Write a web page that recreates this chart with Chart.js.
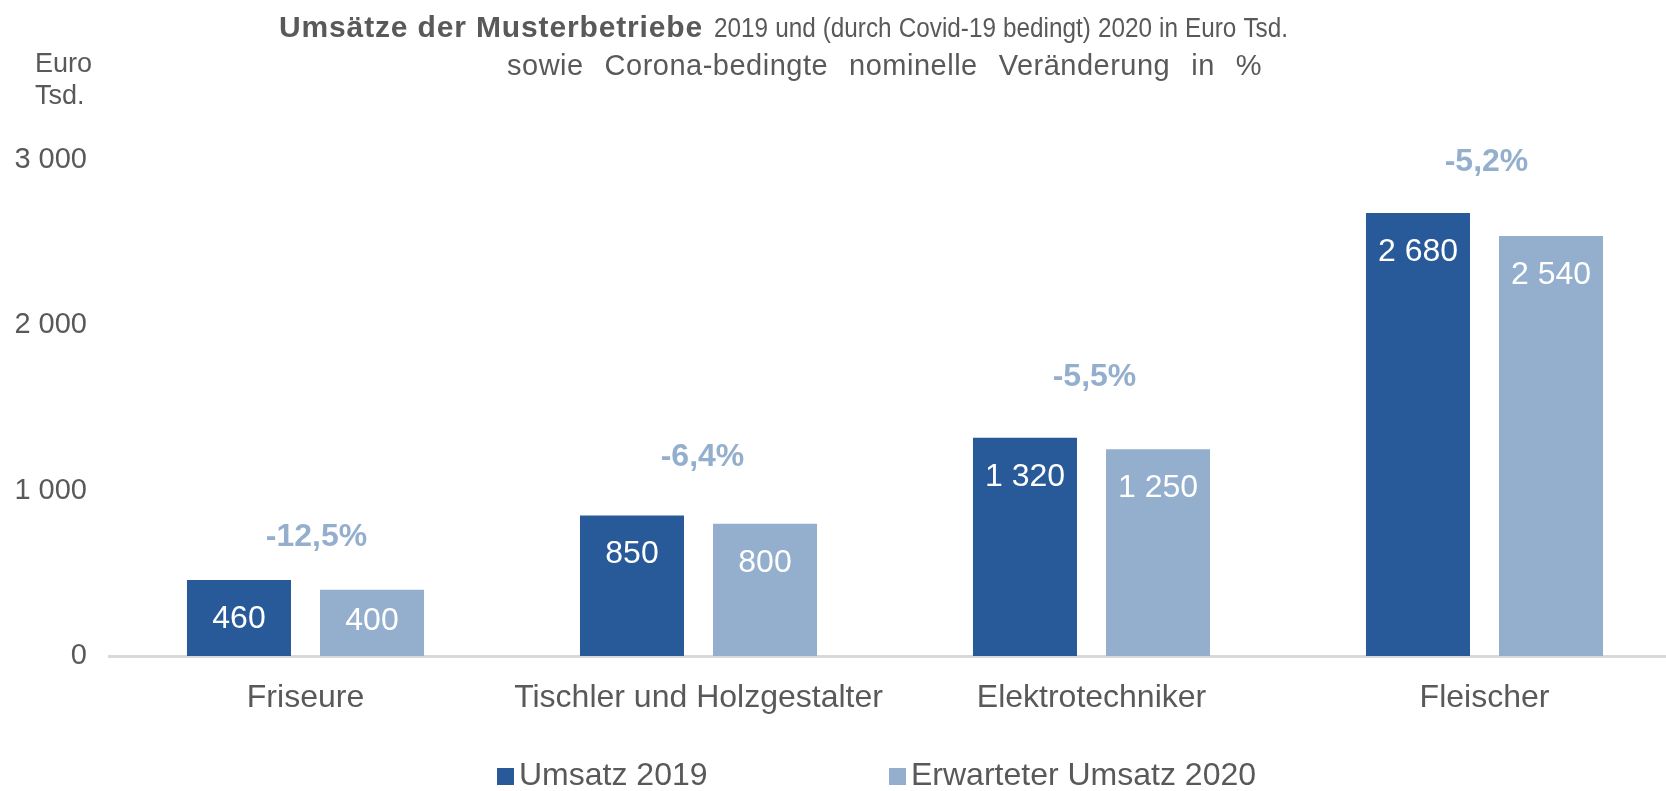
<!DOCTYPE html>
<html><head><meta charset="utf-8">
<script src="https://cdn.jsdelivr.net/npm/chart.js@4/dist/chart.umd.min.js"></script>
<style>html,body{margin:0;padding:0;overflow:hidden;background:#fff}#wrap{width:1681px;height:791px;position:relative}</style>
</head><body><div id="wrap"><canvas id="c"></canvas></div>
<script>
const categories = ['Friseure', 'Tischler und Holzgestalter', 'Elektrotechniker', 'Fleischer'];
const umsatz2019 = [460, 850, 1320, 2680];
const umsatz2020 = [400, 800, 1250, 2540];
const changePct = [-12.5, -6.4, -5.5, -5.2];
const changeLabelLevel = [720, 1204, 1688, 2988];
const yTicks = [0, 1000, 2000, 3000];
const seriesNames = ['Umsatz 2019', 'Erwarteter Umsatz 2020'];
const titleBold = 'Umsätze der Musterbetriebe';
const titleRest = '2019 und (durch Covid-19 bedingt) 2020 in Euro Tsd.';
const titleLine2 = 'sowie Corona-bedingte nominelle Veränderung in %';
const yUnitLines = ['Euro', 'Tsd.'];

const DARK = '#285a9a';
const LIGHT = '#94afcd';
const PCT = '#94afcd';
const TXT = '#595959';
const FONT = '"Liberation Sans", Arial, sans-serif';

const fmtNum = v => String(v).replace(/\B(?=(\d{3})+(?!\d))/g, ' ');
const fmtPct = p => p.toFixed(1).replace('.', ',') + '%';

// draw text spanning width w: horizontal scale hs, letter spacing ls,
// remaining width distributed over word gaps (or letters if byLetters)
function drawFit(ctx, text, x, y, w, hs, ls, byLetters) {
  ctx.save();
  ctx.translate(x, y);
  ctx.scale(hs, 1);
  ctx.letterSpacing = ls + 'px';
  ctx.wordSpacing = '0px';
  const m = ctx.measureText(text).width;
  if (byLetters) {
    ctx.letterSpacing = (ls + (w / hs - m) / text.length) + 'px';
  } else {
    const n = (text.match(/ /g) || []).length || 1;
    ctx.wordSpacing = ((w / hs - m) / n) + 'px';
  }
  ctx.fillText(text, 0, 0);
  ctx.restore();
}

const pctDx = [11, 4, 3, 2];

const decor = {
  id: 'decor',
  afterDatasetsDraw(chart) {
    const ctx = chart.ctx;
    const xs = chart.scales.x, ys = chart.scales.y;
    ctx.save();
    // values inside bars
    ctx.fillStyle = '#ffffff';
    ctx.font = '32px ' + FONT;
    ctx.textAlign = 'center';
    ctx.textBaseline = 'middle';
    chart.data.datasets.forEach((ds, di) => {
      const meta = chart.getDatasetMeta(di);
      meta.data.forEach((el, i) => {
        const y = Math.min(el.y + 39, el.base - 35);
        ctx.fillText(fmtNum(ds.data[i]), el.x, y);
      });
    });
    // percent change labels
    ctx.fillStyle = PCT;
    ctx.font = 'bold 32px ' + FONT;
    changePct.forEach((p, i) => {
      ctx.fillText(fmtPct(p), xs.getPixelForValue(i) + pctDx[i], ys.getPixelForValue(changeLabelLevel[i]));
    });
    // title
    ctx.fillStyle = TXT;
    ctx.textAlign = 'left';
    ctx.textBaseline = 'alphabetic';
    ctx.font = 'bold 30px ' + FONT;
    drawFit(ctx, titleBold, 279, 37, 424, 1, 0, true);
    ctx.font = '27px ' + FONT;
    drawFit(ctx, titleRest, 714, 37, 574, 0.9, 0, false);
    ctx.font = '29px ' + FONT;
    drawFit(ctx, titleLine2, 507, 75, 755, 1, 0.5, false);
    // y unit
    ctx.font = '27px ' + FONT;
    yUnitLines.forEach((t, i) => ctx.fillText(t, 35, 72 + i * 32));
    // legend
    const legend = [{x: 497, c: DARK}, {x: 889, c: LIGHT}];
    ctx.font = '32px ' + FONT;
    legend.forEach((L, i) => {
      ctx.fillStyle = L.c;
      ctx.fillRect(L.x, 768, 17, 17);
      ctx.fillStyle = TXT;
      ctx.fillText(seriesNames[i], L.x + 22, 785);
    });
    ctx.restore();
  }
};

new Chart(document.getElementById('c'), {
  type: 'bar',
  data: {
    labels: categories,
    datasets: [
      {label: seriesNames[0], data: umsatz2019, backgroundColor: DARK, categoryPercentage: 0.677, barPercentage: 0.782},
      {label: seriesNames[1], data: umsatz2020, backgroundColor: LIGHT, categoryPercentage: 0.677, barPercentage: 0.782}
    ]
  },
  options: {
    responsive: true,
    maintainAspectRatio: false,
    animation: false,
    layout: {padding: {top: 160, left: 0, right: 0, bottom: 0}},
    plugins: {legend: {display: false}, tooltip: {enabled: false}},
    scales: {
      x: {
        grid: {display: false, drawTicks: false},
        border: {display: true, color: '#d9d9d9', width: 3},
        ticks: {color: TXT, font: {family: FONT, size: 32}, padding: 23, maxRotation: 0, autoSkip: false},
        afterFit: s => { s.height = 135; }
      },
      y: {
        min: 0, max: 3000,
        afterBuildTicks: s => { s.ticks = yTicks.map(v => ({value: v})); },
        grid: {display: false, drawTicks: false},
        border: {display: false},
        ticks: {color: TXT, font: {family: FONT, size: 29}, padding: 22, callback: v => fmtNum(v)},
        afterFit: s => { s.width = 109; }
      }
    }
  },
  plugins: [decor]
});
</script></body></html>
